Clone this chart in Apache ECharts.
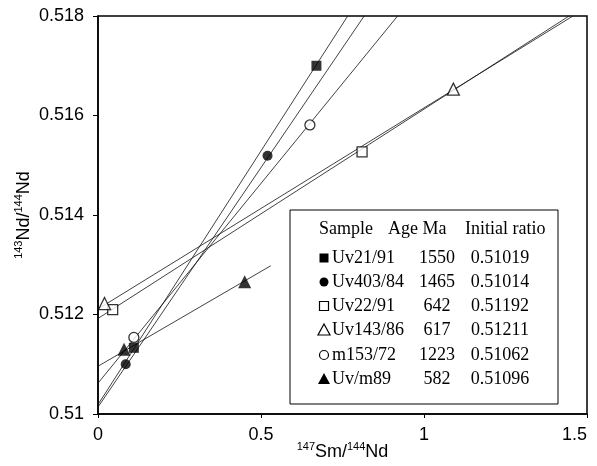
<!DOCTYPE html>
<html>
<head>
<meta charset="utf-8">
<script src="https://cdn.jsdelivr.net/npm/echarts@6/dist/echarts.min.js"></script>
<style>
  html, body { margin: 0; padding: 0; background: #fff; }
  #chart { width: 597px; height: 466px; }
</style>
</head>
<body>
<div id="chart"></div>
<script>
// samples, ages and initial ratios as printed in the key
const samples = ['Uv21/91', 'Uv403/84', 'Uv22/91', 'Uv143/86', 'm153/72', 'Uv/m89'];
const ages = ['1550', '1465', '642', '617', '1223', '582'];
const initialRatios = ['0.51019', '0.51014', '0.51192', '0.51211', '0.51062', '0.51096'];

// measured points [147Sm/144Nd, 143Nd/144Nd]
const points = [
    [[0.11, 0.51133], [0.67, 0.51700]],
    [[0.085, 0.51100], [0.52, 0.51519]],
    [[0.045, 0.51210], [0.81, 0.51527]],
    [[0.02, 0.51222], [1.09, 0.51653]],
    [[0.11, 0.51154], [0.65, 0.51581]],
    [[0.08, 0.51130], [0.45, 0.51266]]
];

// isochron ends
const isochrons = [
    [[0, 0.51019], [0.766, 0.518]],
    [[0, 0.51014], [0.8165, 0.518]],
    [[0, 0.51192], [1.445, 0.518]],
    [[0, 0.51211], [1.457, 0.518]],
    [[0, 0.51062], [0.919, 0.518]],
    [[0, 0.51096], [0.53, 0.51298]]
];

const xTicks = { min: 0, max: 1.5, interval: 0.5 };
const yTicks = { min: 0.510, max: 0.518, interval: 0.002 };

// marker looks
const symbols = ['rect', 'circle', 'rect', 'triangle', 'circle', 'triangle'];
const filled = [true, true, false, false, false, true];
const sizes = [10, 10, 10, 12, 10, 13];

const sansFont = 'Liberation Sans';
const serifFont = 'Liberation Serif';

let series = [];
isochrons.forEach(function (seg, i) {
    series.push({
        type: 'line',
        data: seg,
        symbol: 'none',
        silent: true,
        lineStyle: { color: '#111', width: 0.8 },
        z: 2
    });
});
points.forEach(function (pts, i) {
    series.push({
        name: samples[i],
        type: 'scatter',
        data: pts,
        symbol: symbols[i],
        symbolSize: sizes[i],
        itemStyle: {
            color: filled[i] ? '#000' : '#fff',
            borderColor: '#000',
            borderWidth: filled[i] ? 0 : 1.3
        },
        z: 3
    });
});

// key box drawn as a small table
const keyLeft = 290, keyTop = 210;
const rowY = [258, 282, 306, 330, 355, 379];
let keyItems = [{
    type: 'rect',
    shape: { x: keyLeft, y: keyTop, width: 268, height: 194 },
    style: { fill: '#fff', stroke: '#000', lineWidth: 1 },
    z: 10
}];
const keyFont = '18px "' + serifFont + '"';
[['Sample', 319], ['Age Ma', 388], ['Initial ratio', 465]].forEach(function (h) {
    keyItems.push({
        type: 'text', z: 11,
        style: { text: h[0], x: h[1], y: 229, font: keyFont, fill: '#000', align: 'left', verticalAlign: 'middle' }
    });
});
samples.forEach(function (s, i) {
    let y = rowY[i], cx = 324;
    let fill = filled[i] ? '#000' : '#fff';
    let mk;
    if (symbols[i] === 'rect') {
        mk = { type: 'rect', shape: { x: cx - 4.5, y: y - 4.5, width: 9, height: 9 } };
    } else if (symbols[i] === 'circle') {
        mk = { type: 'circle', shape: { cx: cx, cy: y, r: 4.5 } };
    } else {
        mk = { type: 'polygon', shape: { points: [[cx, y - 6], [cx + 6, y + 5], [cx - 6, y + 5]] } };
    }
    mk.style = { fill: fill, stroke: '#000', lineWidth: filled[i] ? 0 : 1.2 };
    mk.z = 11;
    keyItems.push(mk);
    keyItems.push({ type: 'text', z: 11, style: { text: s, x: 332, y: y, font: keyFont, fill: '#000', align: 'left', verticalAlign: 'middle' } });
    keyItems.push({ type: 'text', z: 11, style: { text: ages[i], x: 437, y: y, font: keyFont, fill: '#000', align: 'center', verticalAlign: 'middle' } });
    keyItems.push({ type: 'text', z: 11, style: { text: initialRatios[i], x: 500, y: y, font: keyFont, fill: '#000', align: 'center', verticalAlign: 'middle' } });
});

const titleRich = {
    b: { fontSize: 18, lineHeight: 20, fontFamily: sansFont, color: '#000', verticalAlign: 'bottom' },
    s: { fontSize: 11, lineHeight: 12, fontFamily: sansFont, color: '#000', verticalAlign: 'top' }
};

let option = {
    animation: false,
    backgroundColor: '#fff',
    grid: {
        left: 98, right: 10, top: 16, bottom: 52,
        outerBoundsMode: 'none',
        containLabel: false,
        show: true,
        borderColor: '#000',
        borderWidth: 1.5,
        backgroundColor: 'transparent'
    },
    xAxis: {
        type: 'value',
        min: xTicks.min, max: xTicks.max, interval: xTicks.interval,
        name: '{s|147}{b|Sm/}{s|144}{b|Nd}',
        nameLocation: 'middle',
        nameGap: 27,
        nameMoveOverlap: false,
        nameTextStyle: { rich: titleRich },
        axisLine: { lineStyle: { color: '#000', width: 1.5 } },
        axisTick: { show: true, length: 4, lineStyle: { color: '#000' } },
        axisLabel: { color: '#000', fontSize: 18, fontFamily: sansFont, margin: 12, showMaxLabel: true, alignMaxLabel: 'right' },
        splitLine: { show: false }
    },
    yAxis: {
        type: 'value',
        min: yTicks.min, max: yTicks.max, interval: yTicks.interval,
        name: '{s|143}{b|Nd/}{s|144}{b|Nd}',
        nameLocation: 'middle',
        nameRotate: 90,
        nameGap: 65,
        nameMoveOverlap: false,
        nameTextStyle: { rich: titleRich },
        axisLine: { lineStyle: { color: '#000', width: 1.5 } },
        axisTick: { show: true, length: 5, lineStyle: { color: '#000' } },
        axisLabel: { color: '#000', fontSize: 18, fontFamily: sansFont, margin: 14 },
        splitLine: { show: false }
    },
    graphic: keyItems,
    series: series
};

var myChart = echarts.init(document.getElementById('chart'));
myChart.setOption(option, true);
</script>
</body>
</html>
